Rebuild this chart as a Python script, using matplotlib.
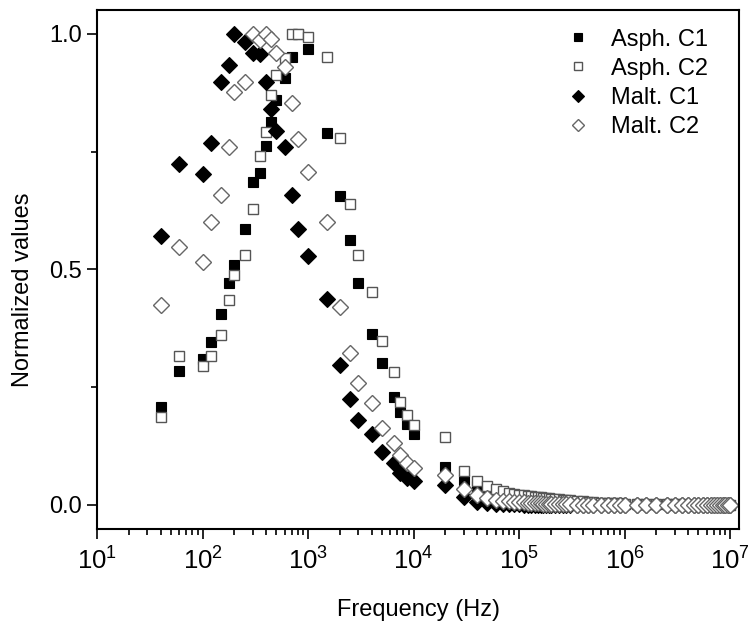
import numpy as np
import matplotlib
matplotlib.use('Agg')
import matplotlib.pyplot as plt
from matplotlib.ticker import FixedLocator, FuncFormatter

plt.rcParams['font.family'] = ['Liberation Sans', 'DejaVu Sans']
plt.rcParams['mathtext.fontset'] = 'custom'
plt.rcParams['mathtext.rm'] = 'Liberation Sans'
plt.rcParams['mathtext.it'] = 'Liberation Sans'

# frequencies (Hz) of the peak region and of the flat tail
freq_peak = [40, 60, 100, 120, 150, 180, 200, 250, 300, 350,
             400, 450, 500, 600, 700, 800, 1000, 1500, 2000, 2500,
             3000, 4000, 5000, 6500, 7500, 8700, 10000, 20000, 30000, 40000,
             50000]
freq_tail = [60e3, 70e3, 80e3, 90e3, 100e3, 110e3, 120e3, 130e3, 140e3, 150e3,
             160e3, 170e3, 180e3, 190e3, 200e3, 220e3, 240e3, 260e3, 280e3, 300e3,
             350e3, 400e3, 450e3, 500e3, 600e3, 700e3, 800e3, 900e3, 1e6, 1.3e6,
             1.6e6, 2e6, 2.5e6, 3e6, 3.5e6, 4e6, 4.5e6, 5e6, 5.5e6, 6e6,
             6.5e6, 7e6, 7.5e6, 8e6, 8.5e6, 9e6, 9.5e6, 1e7]

asph_c1 = [0.208, 0.285, 0.31, 0.347, 0.405, 0.472, 0.51, 0.585, 0.686, 0.705,
           0.762, 0.813, 0.86, 0.907, 0.951, 1.0, 0.968, 0.789, 0.655, 0.563,
           0.471, 0.362, 0.301, 0.229, 0.198, 0.173, 0.151, 0.081, 0.053, 0.04,
           0.03,
           0.027, 0.024, 0.022, 0.020, 0.019, 0.018, 0.017, 0.016, 0.015, 0.014,
           0.013, 0.013, 0.012, 0.012, 0.011, 0.010, 0.010, 0.009, 0.009, 0.008,
           0.007, 0.006, 0.005, 0.005, 0.004, 0.004, 0.003, 0.003, 0.003, 0.002,
           0.002, 0.002, 0.002, 0.001, 0.001, 0.001, 0.001, 0.001, 0.001, 0.001,
           0.001, 0.0, 0.0, 0.0, 0.0, 0.0, 0.0, 0.0]
asph_c2 = [0.187, 0.316, 0.295, 0.317, 0.361, 0.435, 0.489, 0.53, 0.629, 0.741,
           0.792, 0.87, 0.913, 0.95, 1.0, 1.0, 0.994, 0.951, 0.78, 0.638,
           0.53, 0.452, 0.348, 0.282, 0.219, 0.19, 0.17, 0.144, 0.073, 0.05,
           0.04,
           0.033, 0.029, 0.026, 0.024, 0.022, 0.021, 0.020, 0.019, 0.018, 0.017,
           0.016, 0.015, 0.015, 0.014, 0.013, 0.012, 0.012, 0.011, 0.010, 0.010,
           0.009, 0.008, 0.007, 0.006, 0.005, 0.005, 0.004, 0.004, 0.003, 0.003,
           0.003, 0.002, 0.002, 0.002, 0.002, 0.001, 0.001, 0.001, 0.001, 0.001,
           0.001, 0.001, 0.0, 0.0, 0.0, 0.0, 0.0, 0.0]
malt_c1 = [0.571, 0.725, 0.703, 0.768, 0.897, 0.935, 1.0, 0.984, 0.959, 0.957,
           0.897, 0.84, 0.793, 0.759, 0.658, 0.585, 0.529, 0.437, 0.297, 0.224,
           0.18, 0.15, 0.112, 0.09, 0.067, 0.057, 0.05, 0.042, 0.018, 0.007,
           0.004,
           0.003, 0.003, 0.002, 0.002, 0.002, 0.001, 0.001, 0.001, 0.001, 0.001,
           0.001, 0.001, 0.001, 0.0, 0.0, 0.0, 0.0, 0.0, 0.0, 0.0,
           0.0, 0.0, 0.0, 0.0, 0.0, 0.0, 0.0, 0.0, 0.0, 0.0,
           0.0, 0.0, 0.0, 0.0, 0.0, 0.0, 0.0, 0.0, 0.0, 0.0,
           0.0, 0.0, 0.0, 0.0, 0.0, 0.0, 0.0, 0.0]
malt_c2 = [0.425, 0.547, 0.515, 0.60, 0.658, 0.759, 0.877, 0.897, 1.0, 0.987,
           1.0, 0.99, 0.959, 0.93, 0.854, 0.778, 0.706, 0.601, 0.421, 0.322,
           0.258, 0.216, 0.163, 0.131, 0.106, 0.09, 0.078, 0.064, 0.033, 0.021,
           0.014,
           0.011, 0.009, 0.008, 0.007, 0.006, 0.006, 0.005, 0.005, 0.004, 0.004,
           0.004, 0.003, 0.003, 0.003, 0.003, 0.002, 0.002, 0.002, 0.002, 0.002,
           0.001, 0.001, 0.001, 0.001, 0.001, 0.001, 0.001, 0.001, 0.0, 0.0,
           0.0, 0.0, 0.0, 0.0, 0.0, 0.0, 0.0, 0.0, 0.0, 0.0,
           0.0, 0.0, 0.0, 0.0, 0.0, 0.0, 0.0, 0.0]

x_major = [1e1, 1e2, 1e3, 1e4, 1e5, 1e6, 1e7]
y_major = [0.0, 0.5, 1.0]
y_minor = [0.25, 0.75]

freq = freq_peak + freq_tail

fig = plt.figure(figsize=(7.52, 6.22), dpi=100)
ax = fig.add_axes([0.129, 0.1495, 0.854, 0.8345])

ax.plot(freq, asph_c1, 's', ms=7.5, mfc='black', mec='black', mew=0.8, label='Asph. C1')
ax.plot(freq, asph_c2, 's', ms=7.5, mfc='white', mec='#555555', mew=1.0, label='Asph. C2')
ax.plot(freq, malt_c1, 'D', ms=8.3, mfc='black', mec='black', mew=0.8, label='Malt. C1')
ax.plot(freq, malt_c2, 'D', ms=8.3, mfc='white', mec='#666666', mew=1.0, label='Malt. C2')

ax.set_xscale('log')
ax.set_xlim(10, 10 ** 7.085)
ax.set_ylim(-0.051, 1.051)

minor_x = [m * d for d in x_major[:-1] for m in range(2, 10)]
ax.xaxis.set_major_locator(FixedLocator(x_major))
ax.xaxis.set_minor_locator(FixedLocator(minor_x))
ax.xaxis.set_major_formatter(FuncFormatter(lambda v, p: r'$10^{%d}$' % round(np.log10(v))))
ax.yaxis.set_major_locator(FixedLocator(y_major))
ax.yaxis.set_minor_locator(FixedLocator(y_minor))
ax.yaxis.set_major_formatter(FuncFormatter(lambda v, p: '%.1f' % v))

ax.tick_params(which='major', direction='out', length=7, width=1.2)
ax.tick_params(which='minor', direction='out', length=4, width=1.2)
ax.tick_params(axis='x', labelsize=18.5, pad=6)
ax.tick_params(axis='y', labelsize=17, pad=4)
for s in ax.spines.values():
    s.set_linewidth(1.5)

ax.set_xlabel('Frequency (Hz)', fontsize=17, labelpad=18)
ax.set_ylabel('Normalized values', fontsize=17, labelpad=8)
ax.yaxis.set_label_coords(-0.098, 0.46)

ax.legend(loc='upper right', bbox_to_anchor=(0.985, 1.005), frameon=False,
          fontsize=17, markerscale=0.7, handletextpad=0.8, labelspacing=0.3,
          handlelength=1.2)

fig.savefig('out.png', dpi=100)
